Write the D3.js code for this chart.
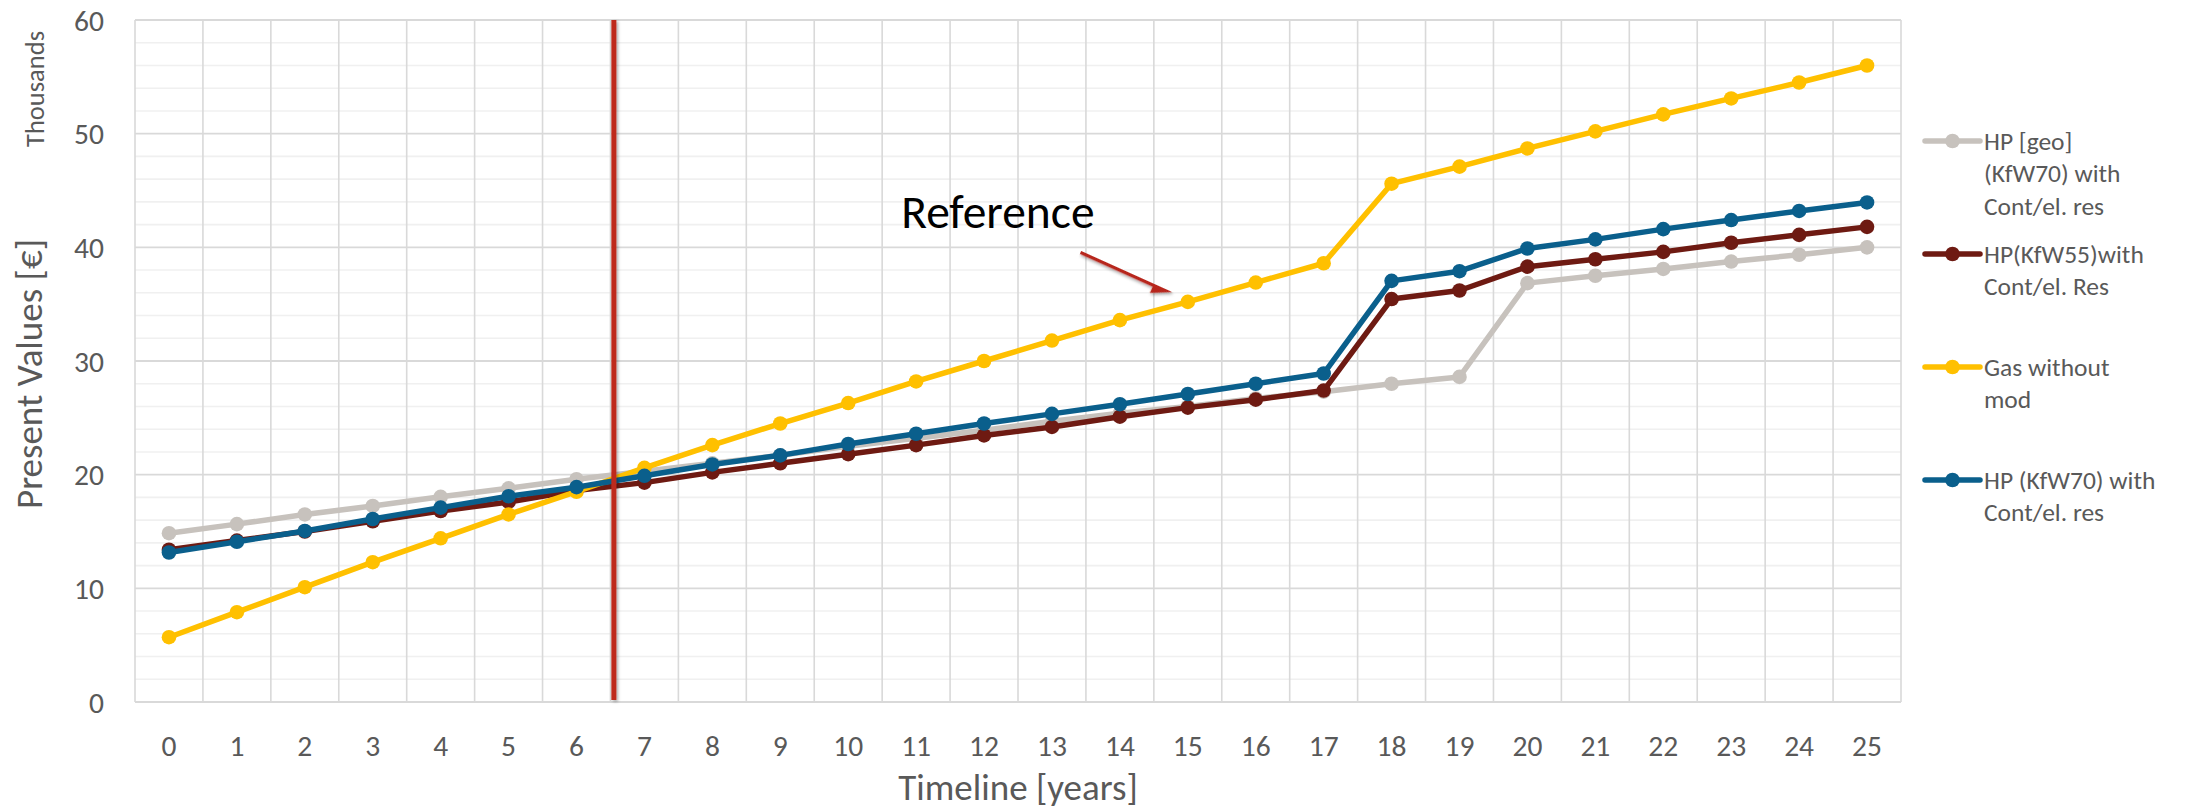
<!DOCTYPE html>
<html>
<head>
<meta charset="utf-8">
<script src="https://cdn.jsdelivr.net/npm/d3@7"></script>
<style>
  html, body { margin: 0; padding: 0; background: #ffffff; }
  svg { display: block; }
  text { font-family: Carlito, Calibri, Lato, sans-serif; }
</style>
</head>
<body>
<svg id="chart" width="2187" height="810"></svg>
<script>
// Timeline categories (years)
const years = [0, 1, 2, 3, 4, 5, 6, 7, 8, 9, 10, 11, 12, 13, 14, 15, 16, 17, 18, 19, 20, 21, 22, 23, 24, 25];

// Present values in thousands of euros
const hpGeoKfw70 = [14.85, 15.65, 16.5, 17.25, 18.05, 18.8, 19.6, 20.3, 21.0, 21.7, 22.5, 23.2, 23.9, 24.7, 25.4, 26.0, 26.7, 27.3, 28.0, 28.6, 36.85, 37.5, 38.1, 38.75, 39.35, 40.0];
const hpKfw55 = [13.4, 14.2, 15.0, 15.9, 16.8, 17.6, 18.6, 19.3, 20.2, 21.0, 21.8, 22.6, 23.45, 24.2, 25.1, 25.9, 26.6, 27.4, 35.45, 36.2, 38.3, 38.95, 39.6, 40.4, 41.1, 41.8];
const gasWithoutMod = [5.7, 7.9, 10.1, 12.3, 14.4, 16.5, 18.5, 20.6, 22.6, 24.5, 26.3, 28.2, 30.0, 31.8, 33.6, 35.2, 36.9, 38.6, 45.6, 47.1, 48.7, 50.2, 51.7, 53.1, 54.5, 56.0];
const hpKfw70 = [13.15, 14.1, 15.05, 16.1, 17.1, 18.1, 18.9, 19.9, 20.9, 21.7, 22.7, 23.6, 24.5, 25.35, 26.2, 27.1, 28.0, 28.9, 37.05, 37.9, 39.9, 40.7, 41.6, 42.4, 43.2, 43.95];

// Legend labels (one array of lines per series)
const seriesLabels = [
  ["HP [geo]", "(KfW70) with", "Cont/el. res"],
  ["HP(KfW55)with", "Cont/el. Res"],
  ["Gas without", "mod"],
  ["HP (KfW70) with", "Cont/el. res"]
];
const seriesColors = ["#C7C2BD", "#6E1A12", "#FFC000", "#0A5F8C"];
const seriesValues = [hpGeoKfw70, hpKfw55, gasWithoutMod, hpKfw70];

// Y axis ticks (thousands)
const yTicks = [0, 10, 20, 30, 40, 50, 60];
const yMinorTicks = [2, 4, 6, 8, 12, 14, 16, 18, 22, 24, 26, 28, 32, 34, 36, 38, 42, 44, 46, 48, 52, 54, 56, 58];

// Reference year marker and annotation (in year / value units)
const referenceYear = 6.55;
const annotationLabel = "Reference";
const annotationText = { year: 10.78, value: 41.7 };
const annotationArrow = { fromYear: 13.43, fromValue: 39.68, toYear: 14.77, toValue: 36.07 };

// ---- layout ----
const plot = { left: 135, right: 1901, top: 20, bottom: 702 };
const svg = d3.select("#chart");

const x = d3.scaleBand().domain(years).range([plot.left, plot.right]).padding(0);
const xc = d => x(d) + x.bandwidth() / 2;
const xLin = d3.scaleLinear().domain([years[0] - 0.5, years[years.length - 1] + 0.5]).range([plot.left, plot.right]);
const y = d3.scaleLinear().domain([0, 60]).range([plot.bottom, plot.top]);

const defs = svg.append("defs");
const shadow = defs.append("filter").attr("id", "soft-shadow")
  .attr("filterUnits", "userSpaceOnUse")
  .attr("x", 0).attr("y", 0).attr("width", 2187).attr("height", 810);
shadow.append("feDropShadow").attr("dx", 1.5).attr("dy", 1.5).attr("stdDeviation", 1.6)
  .attr("flood-color", "#000").attr("flood-opacity", 0.35);

// minor horizontal gridlines
svg.append("g").selectAll("line").data(yMinorTicks).join("line")
  .attr("x1", plot.left).attr("x2", plot.right)
  .attr("y1", d => y(d)).attr("y2", d => y(d))
  .attr("stroke", "#F0F0F0").attr("stroke-width", 1.6);

// vertical gridlines at category boundaries
const boundaries = years.map(d => d - 0.5).concat([years[years.length - 1] + 0.5]);
svg.append("g").selectAll("line").data(boundaries).join("line")
  .attr("x1", d => xLin(d)).attr("x2", d => xLin(d))
  .attr("y1", plot.top).attr("y2", plot.bottom)
  .attr("stroke", "#D9D9D9").attr("stroke-width", 1.6);

// major horizontal gridlines
svg.append("g").selectAll("line").data(yTicks).join("line")
  .attr("x1", plot.left).attr("x2", plot.right)
  .attr("y1", d => y(d)).attr("y2", d => y(d))
  .attr("stroke", "#D9D9D9").attr("stroke-width", d => d === 0 ? 2.2 : 1.8);

// y tick labels
const yAxis = d3.axisLeft(y).tickValues(yTicks).tickSize(0).tickPadding(31);
const gy = svg.append("g").attr("transform", `translate(${plot.left},0)`).call(yAxis);
gy.select(".domain").remove();
gy.selectAll("text").attr("fill", "#595959").style("font-size", "29.5px")
  .attr("dy", "0.34em");

// x tick labels
const xAxis = d3.axisBottom(x).tickSize(0).tickPadding(33);
const gx = svg.append("g").attr("transform", `translate(0,${plot.bottom})`).call(xAxis);
gx.select(".domain").remove();
gx.selectAll("text").attr("fill", "#595959").style("font-size", "29.5px");

// axis titles
svg.append("text").attr("x", (plot.left + plot.right) / 2).attr("y", 800)
  .attr("text-anchor", "middle").attr("fill", "#595959").style("font-size", "37px")
  .text("Timeline [years]");
svg.append("text").attr("transform", "translate(42,374) rotate(-90)")
  .attr("text-anchor", "middle").attr("fill", "#595959").style("font-size", "37px")
  .text("Present Values [€]");
svg.append("text").attr("transform", "translate(44,89) rotate(-90)")
  .attr("text-anchor", "middle").attr("fill", "#595959").style("font-size", "26.5px")
  .text("Thousands");

// series lines and markers
const line = d3.line().x((d, i) => xc(years[i])).y(d => y(d));
seriesValues.forEach((vals, k) => {
  const g = svg.append("g");
  g.append("path").datum(vals).attr("d", line)
    .attr("fill", "none").attr("stroke", seriesColors[k])
    .attr("stroke-width", 5.5).attr("stroke-linejoin", "round").attr("stroke-linecap", "round");
  g.selectAll("circle").data(vals).join("circle")
    .attr("cx", (d, i) => xc(years[i])).attr("cy", d => y(d))
    .attr("r", 7.3).attr("fill", seriesColors[k]);
});

// reference year marker
svg.append("line")
  .attr("x1", xLin(referenceYear)).attr("x2", xLin(referenceYear))
  .attr("y1", plot.top).attr("y2", plot.bottom - 2)
  .attr("stroke", "#BE2A1F").attr("stroke-width", 5)
  .attr("filter", "url(#soft-shadow)");

// annotation text
svg.append("text")
  .attr("x", xLin(annotationText.year)).attr("y", y(annotationText.value))
  .attr("fill", "#000").style("font-size", "47.5px")
  .text(annotationLabel);

// annotation arrow
(function drawArrow() {
  const x1 = xLin(annotationArrow.fromYear), y1 = y(annotationArrow.fromValue);
  const x2 = xLin(annotationArrow.toYear), y2 = y(annotationArrow.toValue);
  const ang = Math.atan2(y2 - y1, x2 - x1);
  const len = Math.hypot(x2 - x1, y2 - y1);
  const headLen = 20, headW = 10, shaftW = 3.2;
  const pts = [
    [0, -shaftW], [len - headLen, -shaftW], [len - headLen, -headW],
    [len, 0], [len - headLen, headW], [len - headLen, shaftW], [0, shaftW]
  ];
  svg.append("polygon")
    .attr("points", pts.map(p => p.join(",")).join(" "))
    .attr("transform", `translate(${x1},${y1}) rotate(${ang * 180 / Math.PI})`)
    .attr("fill", "#B7261C").attr("filter", "url(#soft-shadow)");
})();

// legend
const legendTop = [141, 254, 367, 480];
const legend = svg.append("g");
seriesLabels.forEach((lines, k) => {
  const g = legend.append("g").attr("transform", `translate(1925,${legendTop[k]})`);
  g.append("line").attr("x1", 0).attr("x2", 55).attr("y1", 0).attr("y2", 0)
    .attr("stroke", seriesColors[k]).attr("stroke-width", 5.5).attr("stroke-linecap", "round");
  g.append("circle").attr("cx", 27.5).attr("cy", 0).attr("r", 7.3).attr("fill", seriesColors[k]);
  lines.forEach((t, j) => {
    g.append("text").attr("x", 59).attr("y", j * 32.5).attr("dy", "0.35em")
      .attr("fill", "#595959").style("font-size", "25.5px").text(t);
  });
});
</script>
</body>
</html>
